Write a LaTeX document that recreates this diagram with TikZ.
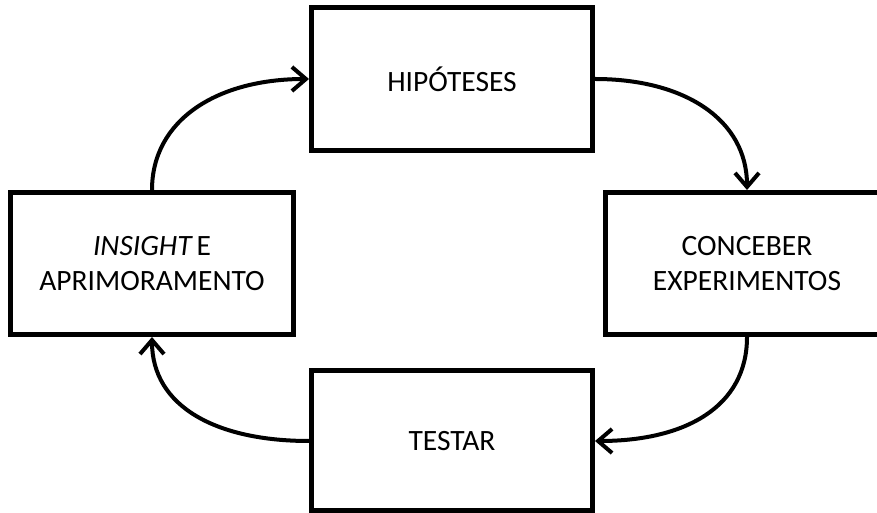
\documentclass[tikz,border=0pt]{standalone}
\usepackage{fontspec}
\setmainfont{Carlito}
\usetikzlibrary{arrows.meta}
\begin{document}
\begin{tikzpicture}[x=1pt,y=1pt,
  box/.style={draw=black,line width=5pt,line join=miter,fill=white,inner sep=0pt,
    align=center,font=\fontsize{29.5}{35}\selectfont,text=black},
  flow/.style={draw=black,line width=4pt,-{Straight Barb[length=14pt,width=24pt,line width=4pt]}}]
\useasboundingbox (0,0) rectangle (877,513);
\clip (0,0) rectangle (877,513);
\fill[white] (0,0) rectangle (877,513);
\node[box,minimum width=283pt,minimum height=142pt] (ins) at (152,249.5) {{\itshape INSIGHT}\,E\\APRIMORAMENTO};
\node[box,minimum width=281pt,minimum height=143pt] (hip) at (452,434) {HIPÓTESES};
\node[box,minimum width=283pt,minimum height=142pt] (conc) at (747,249.5) {CONCEBER\\EXPERIMENTOS};
\node[box,minimum width=281pt,minimum height=140pt] (test) at (452,72) {TESTAR};
\draw[flow] (ins.north) .. controls +(0,70) and +(-92,0) .. (hip.west);
\draw[flow] (hip.east) .. controls +(90,0) and +(0,70) .. (conc.north);
\draw[flow] (conc.south) .. controls +(0,-70) and +(90,0) .. (test.east);
\draw[flow] (test.west) .. controls +(-92,0) and +(0,-70) .. (ins.south);
\end{tikzpicture}
\end{document}
